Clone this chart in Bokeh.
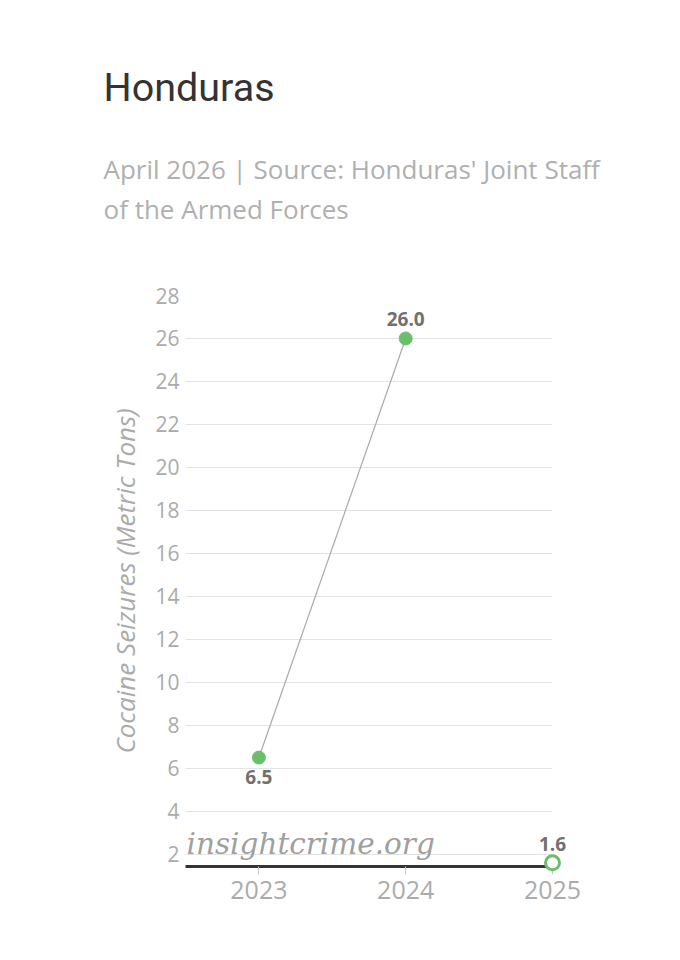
from bokeh.plotting import figure
from bokeh.layouts import column
from bokeh.models import ColumnDataSource, Range1d, FixedTicker, Label
from bokeh.core.properties import value
from bokeh.embed import file_html
from bokeh.resources import INLINE

# ---- data ----
title_text = "Honduras"
subtitle_lines = ["April 2026 | Source: Honduras' Joint Staff", "of the Armed Forces"]
y_label = "Cocaine Seizures (Metric Tons)"
years = [2023, 2024, 2025]
seizures = [6.5, 26.0, 1.6]
partial = [False, False, True]   # 2025 shown as hollow marker, not joined
y_ticks = list(range(2, 29, 2))
watermark = "insightcrime.org"

GREEN = "#6cbf6a"
W = 664
HEAD_H = 240
MAIN_H = 704
X_START, X_END = 2022.5, 2025
Y_START, Y_END = 1.43, 28

# ---- header (title + subtitle) ----
head = figure(width=W, height=HEAD_H, output_backend="svg", toolbar_location=None,
              x_axis_location=None, y_axis_location=None, min_border=0,
              x_range=Range1d(0, 1), y_range=Range1d(0, 1))
head.frame_align = False
head.outline_line_color = None
head.grid.visible = False
head.add_layout(Label(x=103, y=153, x_units="screen", y_units="screen",
                      text=title_text, text_font="Roboto", text_font_size="39.5px",
                      text_color="#333333", text_baseline="alphabetic"))
head.add_layout(Label(x=103, y=72, x_units="screen", y_units="screen",
                      text=subtitle_lines[0], text_font="Open Sans",
                      text_font_size="26px", text_color="#b0b0b0",
                      text_baseline="alphabetic"))
head.add_layout(Label(x=103, y=32, x_units="screen", y_units="screen",
                      text=subtitle_lines[1], text_font="Open Sans",
                      text_font_size="26px", text_color="#b0b0b0",
                      text_baseline="alphabetic"))

# ---- main chart ----
p = figure(width=W, height=MAIN_H, output_backend="svg", toolbar_location=None,
           x_range=Range1d(X_START, X_END), y_range=Range1d(Y_START, Y_END),
           min_border_left=185, min_border_right=112, min_border_top=55,
           min_border_bottom=78)
p.frame_align = False
p.outline_line_color = None

p.xgrid.visible = False
p.ygrid.grid_line_color = "#e3e3e3"
p.ygrid.grid_line_width = 1

# y axis
p.yaxis.ticker = FixedTicker(ticks=y_ticks)
p.yaxis.axis_line_color = None
p.yaxis.major_tick_line_color = None
p.yaxis.major_tick_out = 0
p.yaxis.major_tick_in = 0
p.yaxis.minor_tick_line_color = None
p.yaxis.major_label_text_font = "Open Sans"
p.yaxis.major_label_text_font_size = "21px"
p.yaxis.major_label_text_color = "#ababab"
p.yaxis.major_label_standoff = 6
p.yaxis.axis_label = y_label
p.yaxis.axis_label_text_font = "Open Sans"
p.yaxis.axis_label_text_font_style = "italic"
p.yaxis.axis_label_text_font_size = "26px"
p.yaxis.axis_label_text_color = "#ababab"
p.yaxis.axis_label_standoff = 9

# x axis
p.xaxis.ticker = FixedTicker(ticks=years)
p.xaxis.bounds = (X_START, X_END)
p.xaxis.axis_line_color = "#333333"
p.xaxis.axis_line_width = 3
p.xaxis.major_tick_line_color = "#c8c8c8"
p.xaxis.major_tick_out = 8
p.xaxis.major_tick_in = 0
p.xaxis.minor_tick_line_color = None
p.xaxis.major_label_text_font = "Open Sans"
p.xaxis.major_label_text_font_size = "25px"
p.xaxis.major_label_text_color = "#ababab"
p.xaxis.major_label_standoff = 6

# series
full_x = [x for x, f in zip(years, partial) if not f]
full_y = [y for y, f in zip(seizures, partial) if not f]
part_x = [x for x, f in zip(years, partial) if f]
part_y = [y for y, f in zip(seizures, partial) if f]

p.line(full_x, full_y, line_color="#aaaaaa", line_width=1.2)
p.scatter(full_x, full_y, size=13, fill_color=GREEN, line_color=GREEN)
p.scatter(part_x, part_y, size=14, fill_color="white", line_color=GREEN,
          line_width=3, level="overlay")

# value labels (text glyph, overlay level so they are not clipped)
offs = []
for i, v in enumerate(seizures):
    below = i + 1 < len(seizures) and v < seizures[i + 1]
    offs.append(19 if below else -19)
lab_src = ColumnDataSource(dict(x=years, y=seizures,
                                t=[f"{v:.1f}" for v in seizures], off=offs))
p.text(x="x", y="y", text="t", source=lab_src, y_offset="off",
       text_align="center", text_baseline="alphabetic",
       text_font=value("Open Sans"), text_font_style="bold",
       text_font_size="19px", text_color="#707070", level="overlay")

p.add_layout(Label(x=1, y=23, x_units="screen", y_units="screen",
                   text=watermark, text_font="DejaVu Serif",
                   text_font_style="italic", text_font_size="29.5px",
                   text_color="#a0a0a0", text_baseline="alphabetic"))

open("out.html", "w").write(file_html(column(head, p), INLINE))
